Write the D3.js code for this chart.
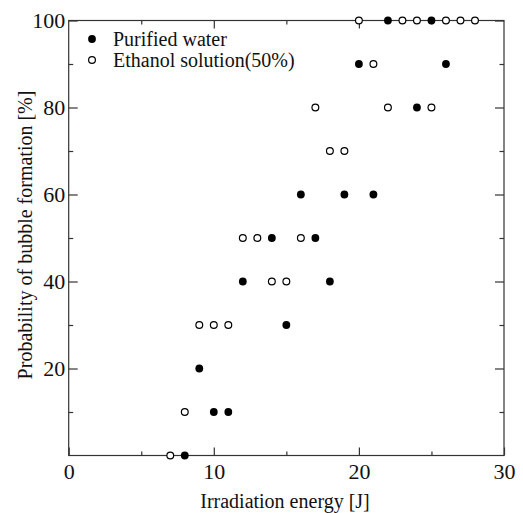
<!DOCTYPE html>
<html><head><meta charset="utf-8">
<script src="https://cdn.jsdelivr.net/npm/d3@7"></script>
<style>body{margin:0;background:#fff}svg{display:block}text{font-family:"Liberation Serif","Times New Roman",serif}</style>
</head><body>
<script>
const waterX = [8, 9, 10, 11, 12, 14, 15, 16, 17, 18, 19, 20, 21, 22, 24, 25, 26];
const waterY = [0, 20, 10, 10, 40, 50, 30, 60, 50, 40, 60, 90, 60, 100, 80, 100, 90];
const ethanolX = [7, 8, 9, 10, 11, 12, 13, 14, 15, 16, 17, 18, 19, 20, 21, 22, 23, 24, 25, 26, 27, 28];
const ethanolY = [0, 10, 30, 30, 30, 50, 50, 40, 40, 50, 80, 70, 70, 100, 90, 80, 100, 100, 80, 100, 100, 100];
const xTicks = [0, 10, 20, 30];
const yTicks = [20, 40, 60, 80, 100];
const seriesNames = ["Purified water", "Ethanol solution(50%)"];

const W = 523, H = 513;
const L = 68.7, R = 504, T = 20.5, B = 455.5;
const svg = d3.select("body").append("svg").attr("width", W).attr("height", H);
const x = d3.scaleLinear().domain([0, 30]).range([L, R]);
const y = d3.scaleLinear().domain([0, 100]).range([B, T]);
const font = "Liberation Serif";
const axisColor = "#333";

svg.append("rect").attr("x", L).attr("y", T).attr("width", R - L).attr("height", B - T)
  .attr("fill", "none").attr("stroke", axisColor).attr("stroke-width", 1.2);

function styleAxis(g) {
  g.attr("font-family", font);
  g.select(".domain").remove();
  g.selectAll(".tick line").attr("stroke", axisColor).attr("stroke-width", 1.2);
  g.selectAll(".tick text").style("font-family", font).attr("font-size", 22).attr("fill", "#111");
}
svg.append("g").attr("transform", `translate(0,${B})`)
  .call(d3.axisBottom(x).tickValues(xTicks).tickSize(-8).tickPadding(8).tickFormat(d3.format("d"))).call(styleAxis);
svg.append("g").attr("transform", `translate(0,${B})`)
  .call(d3.axisBottom(x).tickValues([5, 15, 25]).tickSize(-4).tickFormat("")).call(styleAxis);
svg.append("g").attr("transform", `translate(0,${T})`)
  .call(d3.axisTop(x).tickValues([10, 20]).tickSize(-8).tickFormat("")).call(styleAxis);
svg.append("g").attr("transform", `translate(0,${T})`)
  .call(d3.axisTop(x).tickValues([5, 15, 25]).tickSize(-4).tickFormat("")).call(styleAxis);
svg.append("g").attr("transform", `translate(${L},0)`)
  .call(d3.axisLeft(y).tickValues(yTicks).tickSize(-9).tickPadding(3.5).tickFormat(d3.format("d"))).call(styleAxis);
svg.append("g").attr("transform", `translate(${L},0)`)
  .call(d3.axisLeft(y).tickValues([10, 30, 50, 70, 90]).tickSize(-4.5).tickFormat("")).call(styleAxis);
svg.append("g").attr("transform", `translate(${R},0)`)
  .call(d3.axisRight(y).tickValues(yTicks).tickSize(-9).tickFormat("")).call(styleAxis);
svg.append("g").attr("transform", `translate(${R},0)`)
  .call(d3.axisRight(y).tickValues([10, 30, 50, 70, 90]).tickSize(-4.5).tickFormat("")).call(styleAxis);

svg.append("text").attr("x", 285).attr("y", 508).attr("text-anchor", "middle")
  .style("font-family", font).attr("font-size", 20).attr("fill", "#111").text("Irradiation energy [J]");
svg.append("text").attr("transform", `translate(32,235) rotate(-90)`).attr("text-anchor", "middle")
  .style("font-family", font).attr("font-size", 20).attr("fill", "#111").text("Probability of bubble formation [%]");

const water = waterX.map((v, i) => ({x: v, y: waterY[i]}));
const ethanol = ethanolX.map((v, i) => ({x: v, y: ethanolY[i]}));
svg.append("g").selectAll("circle").data(ethanol).join("circle")
  .attr("cx", d => x(d.x)).attr("cy", d => y(d.y)).attr("r", 3.4)
  .attr("fill", "#fff").attr("stroke", "#000").attr("stroke-width", 1.2);
svg.append("g").selectAll("circle").data(water).join("circle")
  .attr("cx", d => x(d.x)).attr("cy", d => y(d.y)).attr("r", 3.9)
  .attr("fill", "#000");

const lg = svg.append("g");
lg.append("circle").attr("cx", 92).attr("cy", 39).attr("r", 3.9).attr("fill", "#000");
lg.append("circle").attr("cx", 92).attr("cy", 60).attr("r", 3.4).attr("fill", "#fff").attr("stroke", "#000").attr("stroke-width", 1.2);
lg.append("text").attr("x", 113).attr("y", 46).style("font-family", font).attr("font-size", 20).attr("fill", "#111").text(seriesNames[0]);
lg.append("text").attr("x", 113).attr("y", 67).style("font-family", font).attr("font-size", 20).attr("fill", "#111").text(seriesNames[1]);
</script>
</body></html>
